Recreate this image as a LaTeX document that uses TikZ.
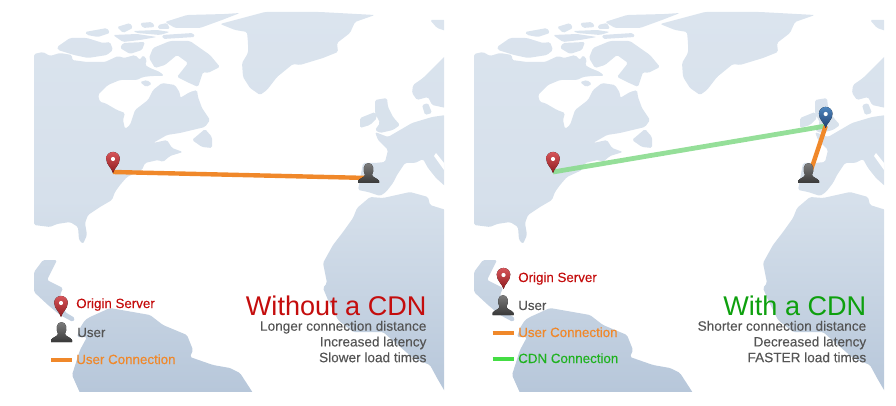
\documentclass[tikz,border=0pt]{standalone}
\usepackage{fontspec}
\setmainfont{Liberation Sans}
\newfontfamily\heavyfont[FakeBold=0.25]{Liberation Sans}
\usetikzlibrary{positioning}
\definecolor{landtop}{HTML}{DBE4EE}
\definecolor{landmid}{HTML}{D6E0EB}
\definecolor{landbot}{HTML}{B7C7DA}
\definecolor{linkorange}{HTML}{F0882A}
\definecolor{linkgreen}{HTML}{44DD44}
\definecolor{linkfade}{HTML}{8ADB8E}
\definecolor{titlered}{HTML}{C40D0D}
\definecolor{titlegreen}{HTML}{0EA00E}
\definecolor{bodygrey}{HTML}{555555}
\definecolor{pinredtop}{HTML}{D6555A}
\definecolor{pinredbot}{HTML}{8E1B1E}
\definecolor{pinbluetop}{HTML}{4F86BE}
\definecolor{pinbluebot}{HTML}{1E3F70}
\tikzset{
    titletext/.style={anchor=base east, inner sep=0pt, font=\fontsize{20.3}{24}\selectfont},
    bodytext/.style={anchor=north east, inner sep=0pt, align=right, text=bodygrey, font=\heavyfont\fontsize{10.2}{11.8}\selectfont},
    legendtext/.style={anchor=base west, inner sep=0pt, font=\heavyfont\fontsize{10}{12}\selectfont},
    userlink/.style={line width=3.3pt, linkorange},
    cdnlink/.style={line width=3.6pt, linkfade, opacity=.9},
    swatch/.style={line width=3.3pt},
    pics/mappin/.style 2 args={code={
        \fill[top color=#1, bottom color=#2]
            (0,0) .. controls (-1,-5) and (-6.8,-8) .. (-6.8,-14.3)
            arc[start angle=180, end angle=0, x radius=6.8, y radius=-6.8]
            .. controls (6.8,-8) and (1,-5) .. (0,0) -- cycle;
        \fill[white] (0,-14) circle[radius=2.1];
    }},
    pics/usericon/.style={code={
        \fill[top color=black!50, bottom color=black!78]
            (-10.5,0) -- (-10.5,-2) .. controls (-9,-5) and (-4.5,-5) .. (-3.5,-8)
            .. controls (-5,-11) and (-5,-13) .. (-4.5,-16)
            .. controls (-4,-21) and (4,-21) .. (4.5,-16)
            .. controls (5,-13) and (5,-11) .. (3.5,-8)
            .. controls (4.5,-5) and (9,-5) .. (10.5,-2) -- (10.5,0) -- cycle;
    }}
}
% land outlines, in pixels of the left panel
\newcommand{\mapland}{
    \begin{scope}
    \clip[rounded corners=1.2pt] (34,54) -- (43,52) -- (50,56) -- (60,53) -- (72,55) -- (72,60) -- (87,62) -- (105,62) -- (118,56) -- (124,58)
        -- (135,55) -- (140,60) -- (143,55) -- (147,60) -- (145,65) -- (150,68) -- (160,72) -- (164,76) -- (152,76) -- (143,77) -- (137,80)
        -- (120,80) -- (108,85) -- (98,95) -- (100,102) -- (105,103) -- (117,110) -- (125,113) -- (123,120) -- (125,129)
        -- (130,125) -- (135,110) -- (148,100) -- (153,90) -- (162,83) -- (175,85) -- (180,93) -- (180,98)
        -- (190,92) -- (197,90) -- (198,97) -- (202,108) -- (210,120) -- (205,127) -- (180,133) -- (167,135) -- (153,143)
        -- (167,140) -- (172,148) -- (183,152)
        -- (170,156) -- (163,162) -- (158,160) -- (145,163) -- (142,170) -- (127,177) -- (120,185) -- (115,192)
        -- (112,200) -- (100,207) -- (88,215) -- (85,223) -- (87,235) -- (83,244) -- (79,240) -- (78,227) -- (70,222)
        -- (57,224) -- (50,227) -- (34,225) -- cycle
        (140,82) -- (147,80) -- (152,84) -- (146,87) -- cycle
        (57,47) -- (70,38) -- (87,38) -- (103,43) -- (110,42) -- (113,50) -- (107,55) -- (88,58) -- (74,55) -- (58,50) -- cycle
        (85,32) -- (107,28) -- (110,33) -- (98,37) -- (87,35) -- cycle
        (117,27) -- (130,23) -- (133,28) -- (123,33) -- cycle
        (140,23) -- (152,22) -- (155,27) -- (143,28) -- cycle
        (158,25) -- (167,23) -- (170,29) -- (158,29) -- cycle
        (133,31) -- (157,30) -- (170,32) -- (160,35) -- (137,33) -- cycle
        (113,35) -- (137,34) -- (157,37) -- (140,40) -- (123,42) -- cycle
        (123,43) -- (145,42) -- (142,50) -- (130,54) -- (120,48) -- cycle
        (162,35) -- (193,33) -- (195,37) -- (163,39) -- cycle
        (165,22) -- (187,15) -- (225,14) -- (240,13) -- (222,20) -- (200,28) -- (175,28) -- cycle
        (153,48) -- (170,41) -- (190,41) -- (200,48) -- (210,55) -- (220,67) -- (208,73) -- (203,72) -- (198,87)
        -- (187,82) -- (177,77) -- (188,63) -- (177,55) -- (165,65) -- (155,68) -- (149,58) -- cycle
        (192,140) -- (205,129) -- (212,137) -- (212,148) -- (202,147) -- cycle
        (220,24) -- (265,12) -- (320,12) -- (375,15) -- (355,22) -- (350,33) -- (337,43) -- (338,52) -- (323,58)
        -- (300,65) -- (293,64) -- (277,77) -- (267,90) -- (260,95) -- (250,88) -- (243,77) -- (242,63) -- (248,53)
        -- (248,43) -- (247,32) -- (235,30) -- cycle
        (430,20) -- (446,20) -- (446,31) -- (437,28) -- cycle
        (446,55) -- (433,68) -- (423,78) -- (413,85) -- (412,93) -- (417,100) -- (428,97) -- (432,105) -- (446,108) -- cycle
        (422,105) -- (428,103) -- (432,113) -- (425,115) -- cycle
        (375,100) -- (387,98) -- (388,107) -- (393,117) -- (400,125) -- (393,130) -- (380,133) -- (375,130) -- (380,123) -- (375,113) -- cycle
        (360,118) -- (375,112) -- (377,118) -- (370,125) -- (360,128) -- cycle
        (446,115) -- (432,117) -- (412,123) -- (400,130) -- (388,137) -- (375,132) -- (378,140) -- (388,150) -- (385,162)
        -- (375,163) -- (363,163) -- (358,190) -- (368,192) -- (380,196) -- (386,192) -- (393,183) -- (397,175) -- (405,163)
        -- (415,163) -- (423,159) -- (428,168) -- (436,178) -- (446,187) -- cycle
        (370,197) -- (383,198) -- (410,192) -- (428,197) -- (430,205) -- (446,210) -- (446,393) -- (444,390) -- (437,378)
        -- (430,365) -- (413,358) -- (383,332) -- (353,332) -- (338,320) -- (328,300) -- (323,288) -- (327,283) -- (323,263)
        -- (333,245) -- (343,232) -- (353,218) -- (357,208) -- cycle
        (34,272) -- (43,260) -- (57,260) -- (47,280) -- (63,288) -- (60,295) -- (65,312) -- (75,318) -- (73,322) -- (60,315)
        -- (48,305) -- (34,292) -- cycle
        (85,320) -- (90,317) -- (110,308) -- (150,315) -- (163,325) -- (187,335) -- (193,350) -- (190,357) -- (213,365)
        -- (230,368) -- (240,373) -- (253,393) -- (80,393) -- (72,375) -- (80,350) -- (87,337) -- (77,337) -- (80,328) -- cycle;
    \shade[top color=landtop, bottom color=landbot, middle color=landmid] (34,10) rectangle (444,391);
    \end{scope}
    \fill[white] (436,153) -- (444,163) -- (444,170) -- (434,156) -- cycle;
}
\begin{document}
\begin{tikzpicture}[x=0.75pt, y=-0.75pt]
    \useasboundingbox (0,0) rectangle (896,406);

    % left panel
    \mapland
    \coordinate (origin) at (113,172);
    \coordinate (user) at (368.5,178);
    \draw[userlink] (origin) -- (user);
    \pic at (113,173) {mappin={pinredtop}{pinredbot}};
    \pic at (368.5,183) {usericon};
    \node[titletext, text=titlered] (titleA) at (426.7,315) {Without a CDN};
    \node[bodytext, below=4.2pt of titleA.base east, anchor=north east] (bodyA) {Longer connection distance\\Increased latency\\Slower load times};

    \pic at (61,317) {mappin={pinredtop}{pinredbot}};
    \pic at (61.5,342) {usericon};
    \coordinate (swatchA) at (51,360);
    \coordinate (swatchB) at (72,360);
    \draw[swatch, linkorange] (swatchA) -- (swatchB);
    \node[legendtext, text=titlered] (legendOriginA) at (76,308) {Origin Server};
    \node[legendtext, text=bodygrey] (legendUserA) at (77,337) {User};
    \node[legendtext, text=linkorange] (legendLinkA) at (76,364) {User Connection};

    % right panel
    \begin{scope}[shift={(440,0)}]
        \mapland
        \coordinate (originB) at (113,172);
        \coordinate (cache) at (385.7,126);
        \coordinate (userB) at (371,170);
        \draw[cdnlink] (originB) -- (cache);
        \draw[userlink] (cache) -- (userB);
        \pic at (113,173) {mappin={pinredtop}{pinredbot}};
        \pic at (385.7,128) {mappin={pinbluetop}{pinbluebot}};
        \pic at (368.5,183) {usericon};
    \end{scope}
    \node[titletext, text=titlegreen] (titleB) at (866.5,315) {With a CDN};
    \node[bodytext, below=4.2pt of titleB.base east, anchor=north east] (bodyB) {Shorter connection distance\\Decreased latency\\FASTER load times};

    \pic at (503.5,289) {mappin={pinredtop}{pinredbot}};
    \pic at (503,315) {usericon};
    \coordinate (swatchC) at (492.5,333);
    \coordinate (swatchD) at (513.5,333);
    \coordinate (swatchE) at (492.5,359);
    \coordinate (swatchF) at (513.5,359);
    \draw[swatch, linkorange] (swatchC) -- (swatchD);
    \draw[swatch, linkgreen] (swatchE) -- (swatchF);
    \node[legendtext, text=titlered] (legendOriginB) at (518,282) {Origin Server};
    \node[legendtext, text=bodygrey] (legendUserB) at (518,310) {User};
    \node[legendtext, text=linkorange] (legendLinkB) at (518,337) {User Connection};
    \node[legendtext, text=titlegreen!70!linkgreen] (legendCdn) at (518,363) {CDN Connection};
\end{tikzpicture}
\end{document}
